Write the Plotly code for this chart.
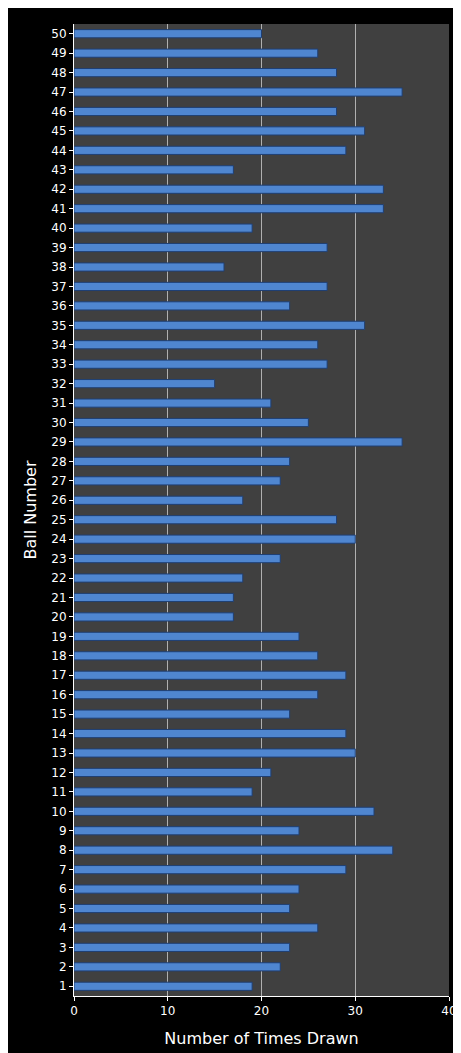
import plotly.graph_objects as go

balls = list(range(1, 51))
counts = [19, 22, 23, 26, 23, 24, 29, 34, 24, 32,
          19, 21, 30, 29, 23, 26, 29, 26, 24, 17,
          17, 18, 22, 30, 28, 18, 22, 23, 35, 25,
          21, 15, 27, 26, 31, 23, 27, 16, 27, 19,
          33, 33, 17, 29, 31, 28, 35, 28, 26, 20]
x_ticks = [0, 10, 20, 30, 40]

fig = go.Figure(go.Bar(
    x=counts, y=[str(b) for b in balls], orientation="h",
    marker=dict(color="#4f86d0", line=dict(color="#1f3f73", width=1)),
))
fig.update_layout(
    width=461, height=1053,
    paper_bgcolor="black", plot_bgcolor="#404040",
    margin=dict(l=66, r=20, t=16, b=65, autoexpand=False),
    bargap=0.58, showlegend=False,
    font=dict(family="DejaVu Sans", color="white", size=12),
    xaxis=dict(range=[0, 40], tickvals=x_ticks, showgrid=True, gridcolor="#b0b0b0", gridwidth=1,
               zeroline=False, ticks="outside", tickcolor="white", ticklen=4, automargin=False,
               title=dict(text="Number of Times Drawn", font=dict(size=16)),
               showline=True, linecolor="white"),
    yaxis=dict(type="category", showgrid=False, ticks="outside", tickcolor="white", ticklen=4,
               automargin=False,
               title=dict(text="Ball Number", font=dict(size=16), standoff=10),
               showline=True, linecolor="white"),
)
fig.write_html("out.html")
